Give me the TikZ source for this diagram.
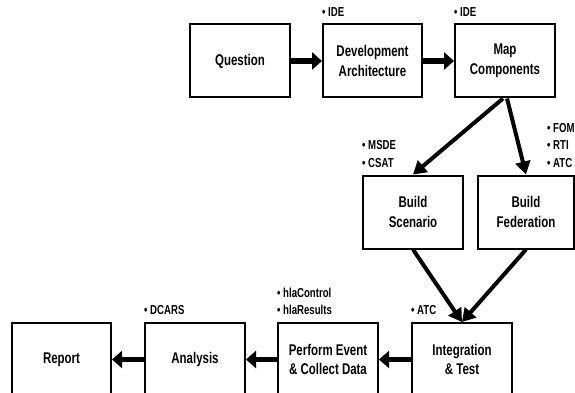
\documentclass[tikz,border=0pt]{standalone}
\usepackage{fontspec}
\setmainfont{Liberation Sans}[FakeStretch=0.74]
\usetikzlibrary{arrows.meta}
\tikzset{
  box/.style={draw, line width=2pt, minimum width=100pt, minimum height=73pt, align=center,
    font=\bfseries\fontsize{15.5}{19.5}\selectfont, inner sep=0pt},
  lbl/.style={anchor=south west, inner sep=0pt, text depth=0pt, align=left,
    font=\bfseries\fontsize{13}{17.5}\selectfont},
  harrow/.style={line width=5.5pt, -{Triangle[length=10pt,width=17pt]}},
  darrow/.style={line width=4pt, -{Triangle[length=13pt,width=15pt]}}
}
\begin{document}
\begin{tikzpicture}[x=1pt,y=-1pt]
\useasboundingbox (0,0) rectangle (575,393);
\clip (0,0) rectangle (575,393);
% top row
\node[box] (q) at (240,61) {Question};
\node[box, minimum width=99pt] (dev) at (372.5,61) {Development\\Architecture};
\node[box] (map) at (505,61) {Map\\Components};
% middle row
\node[box] (scen) at (413,212) {Build\\Scenario};
\node[box, minimum width=96pt] (fed) at (526,212) {Build\\Federation};
% bottom row
\node[box, minimum width=99pt] (rep) at (61.5,359.5) {Report};
\node[box] (ana) at (195,359.5) {Analysis};
\node[box] (perf) at (328,359.5) {Perform Event\\\& Collect Data};
\node[box] (int) at (462,359.5) {Integration\\\& Test};
% labels
\node[lbl] (ldev) at ([yshift=7pt]dev.north west) {• IDE};
\node[lbl] (lmap) at ([yshift=7pt]map.north west) {• IDE};
\node[lbl] (lscen) at ([yshift=7pt]scen.north west) {• MSDE\\• CSAT};
\node[lbl] (lfed) at ([xshift=70pt,yshift=7pt]fed.north west) {• FOM\\• RTI\\• ATC};
\node[lbl] (lana) at ([yshift=7pt]ana.north west) {• DCARS};
\node[lbl] (lperf) at ([yshift=7pt]perf.north west) {• hlaControl\\• hlaResults};
\node[lbl] (lint) at ([yshift=7pt]int.north west) {• ATC};
% arrows
\draw[harrow] (q) -- (dev);
\draw[harrow] (dev) -- (map);
\draw[darrow] ([xshift=-2pt]map.south) -- (scen.north);
\draw[darrow] ([xshift=2pt]map.south) -- (fed.north);
\draw[darrow] (scen.south) -- (int.north);
\draw[darrow] (fed.south) -- (int.north);
\draw[harrow] (int) -- (perf);
\draw[harrow] (perf) -- (ana);
\draw[harrow] (ana) -- (rep);
\end{tikzpicture}
\end{document}
